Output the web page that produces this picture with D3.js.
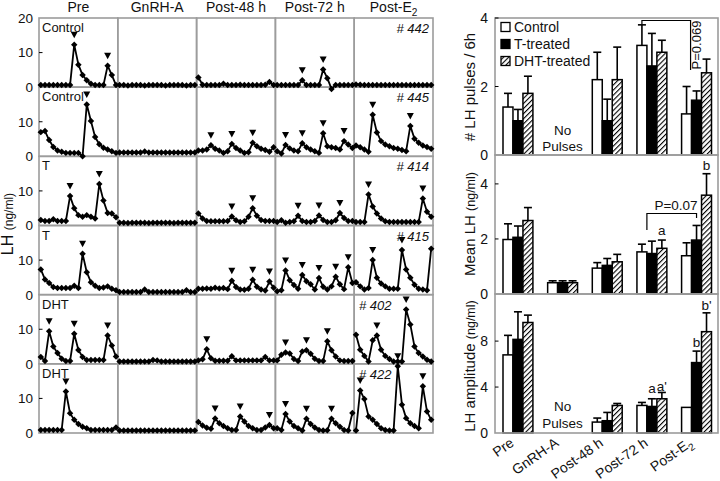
<!DOCTYPE html>
<html><head><meta charset="utf-8">
<script src="https://cdn.jsdelivr.net/npm/d3@7"></script>
<style>body{margin:0;background:#fff} svg{display:block} text{font-family:"Liberation Sans",Arial,Helvetica,sans-serif;fill:#111}</style>
</head><body><svg id="c" width="720" height="481"></svg>
<script>
// ---------- DATA ----------
const periods = ["Pre","GnRH-A","Post-48 h","Post-72 h","Post-E2"];
const rowGroups = ["Control","Control","T","T","DHT","DHT"];
const animalIds = ["# 442","# 445","# 414","# 415","# 402","# 422"];
const lhTicks = [0,10,20];

// LH (ng/ml), 19 samples per period: [Pre, GnRH-A, Post-48 h, Post-72 h, Post-E2]
const lh442 = [
 [0.6,0.6,0.6,0.6,0.6,0.6,0.6,0.6,12.3,6.5,3.5,2.0,1.0,0.6,0.6,0.6,6.2,3.5,0.6],
 [0.6,0.6,0.5,0.6,0.6,0.6,0.5,0.6,0.6,0.6,0.6,0.5,0.6,0.6,0.6,0.6,0.5,0.6,0.6],
 [2.8,0.7,0.6,0.6,0.6,0.6,1.0,0.6,0.6,0.6,0.7,0.6,0.6,0.6,0.6,0.6,0.7,1.5,0.6],
 [0.6,0.6,0.6,0.6,0.6,0.6,2.0,0.6,0.6,0.6,0.6,5.1,2.6,-0.5,0.6,0.6,0.6,0.6,0.6],
 [0.8,0.7,0.6,0.6,0.6,0.6,0.6,0.6,0.6,0.6,0.6,0.6,0.6,0.6,0.6,0.6,0.6,0.6,0.6]];
const lh445 = [
 [7.0,7.3,4.7,2.7,1.7,1.3,1.0,1.0,1.0,1.0,0.0,15.0,10.2,5.6,3.5,2.5,2.0,1.5,1.0],
 [1.1,1.1,1.1,1.1,1.1,1.1,1.4,1.1,1.1,1.1,1.1,1.1,1.1,1.1,1.1,1.1,1.1,1.1,1.1],
 [1.7,1.7,2.0,3.2,2.2,1.7,1.0,1.5,3.6,2.4,1.7,1.0,1.2,3.9,2.9,2.2,1.8,1.3,2.6],
 [1.5,0.8,3.3,2.3,1.7,1.5,3.8,2.6,2.0,1.5,1.0,6.7,2.9,2.6,2.4,2.0,4.4,3.4,2.4],
 [3.1,2.6,2.0,1.3,12.0,6.9,4.4,3.4,2.9,2.4,2.2,1.8,1.5,8.8,5.1,3.9,3.1,2.7,2.2]];
const lh414 = [
 [1.6,1.3,1.3,1.8,1.3,1.3,1.3,8.5,5.0,3.0,2.5,3.0,2.5,2.0,12.0,7.2,3.6,3.5,2.4],
 [0.8,0.8,0.7,0.8,0.8,0.8,0.8,0.7,0.8,0.8,0.8,0.8,0.8,0.7,0.8,0.8,0.8,0.8,0.8],
 [3.5,2.0,1.3,1.2,1.2,1.2,1.2,1.3,2.6,1.5,1.0,1.2,2.5,5.0,2.8,1.6,1.3,1.3,1.3],
 [1.0,1.5,0.8,1.0,1.2,2.8,1.3,1.0,1.0,1.3,2.9,1.6,1.0,1.0,1.5,3.6,2.2,1.3,1.3],
 [1.0,1.0,1.0,9.0,5.5,3.5,2.0,1.2,1.0,1.0,1.0,1.0,1.0,1.0,1.0,1.0,7.8,4.0,2.5]];
const lh415 = [
 [7.3,4.4,3.4,2.2,1.9,1.9,1.9,1.9,2.6,1.9,11.8,6.5,3.6,2.6,1.9,2.1,2.4,1.7,1.3],
 [0.8,0.8,0.8,0.8,0.8,0.8,1.5,0.8,0.8,0.8,0.8,0.8,0.8,0.8,0.8,0.8,1.3,0.8,0.8],
 [1.7,1.7,1.8,1.7,2.0,1.8,1.9,1.6,4.0,2.2,1.5,1.4,1.7,4.3,2.3,1.5,1.2,3.8,2.0],
 [1.0,1.3,7.0,4.2,2.8,1.7,5.7,3.9,3.0,1.5,4.8,2.3,1.5,2.4,5.2,3.0,1.6,7.9,3.4],
 [3.6,2.4,1.5,1.9,10.0,4.9,3.2,2.4,1.7,1.7,1.7,12.9,7.3,4.9,2.9,1.7,1.5,1.3,13.3]];
const lh402 = [
 [2.0,0.8,9.4,5.0,3.1,1.5,0.8,0.8,8.7,4.0,2.0,1.1,1.1,1.1,1.1,1.1,8.2,5.3,2.1],
 [0.7,0.7,0.7,0.7,0.7,0.7,0.7,0.7,1.1,1.0,0.7,0.7,0.7,0.7,0.7,0.7,0.7,0.7,0.7],
 [1.0,1.3,4.2,1.6,0.9,0.9,0.9,0.9,2.2,1.0,1.0,1.0,1.0,1.0,1.0,1.0,2.0,1.0,1.0],
 [1.0,2.6,3.3,3.0,1.4,0.8,3.6,3.9,2.9,1.5,0.8,0.8,6.5,3.9,2.1,1.0,0.8,0.8,0.8],
 [8.4,4.1,2.3,0.7,6.8,8.2,4.1,2.3,1.4,0.7,0.7,0.7,15.7,11.4,5.0,3.1,2.1,1.2,0.7]];
const lh422 = [
 [0.9,0.9,0.9,0.9,0.9,0.9,12.0,5.7,3.8,2.6,1.8,1.4,0.9,0.9,0.9,0.9,0.9,0.9,1.6],
 [0.7,0.7,0.7,0.7,0.7,0.7,0.7,0.7,0.7,0.7,0.7,0.7,0.7,0.7,0.7,0.7,0.7,0.7,0.7],
 [3.2,2.2,1.5,1.2,4.2,2.8,2.0,1.4,0.9,0.9,4.8,3.3,2.0,1.4,0.9,0.9,1.6,2.3,1.4],
 [1.4,0.9,5.5,3.3,2.0,1.4,0.7,4.1,2.6,1.6,0.9,0.7,0.8,4.1,2.8,1.8,0.9,0.7,5.8],
 [0.7,12.3,9.8,4.8,3.8,2.6,1.4,0.9,0.7,0.7,19.3,8.2,4.3,2.8,2.0,1.4,13.5,6.2,3.8]];
// detected pulses (sample index) per period
const pulse442 = [[8,16],[],[],[6,11],[]];
const pulse445 = [[11],[],[3,8,13],[2,6,11,16],[4,13]];
const pulse414 = [[7,14],[],[8,13],[5,10,15],[3,16]];
const pulse415 = [[10],[],[8,13,17],[2,6,10,14,17],[4,11]];
const pulse402 = [[2,8,16],[],[2],[2,7,12],[5,12]];
const pulse422 = [[6],[],[4,10,17],[2,7,13],[1,10,16]];
const animalSeries = [lh442,lh445,lh414,lh415,lh402,lh422];
const animalPulses = [pulse442,pulse445,pulse414,pulse415,pulse402,pulse422];

// Bar charts (mean, SEM) in order of periods
const series = ["Control","T-treated","DHT-treated"];
const pulsesControl = [1.4,null,2.2,3.2,1.2],  pulsesControlErr = [0.4,null,0.8,0.6,0.8];
const pulsesT       = [1.0,null,1.0,2.6,1.6],  pulsesTErr       = [0.33,null,0.63,0.95,0.27];
const pulsesDHT     = [1.8,null,2.2,3.0,2.4],  pulsesDHTErr     = [0.5,null,0.95,0.35,0.4];
const meanControl = [1.98,0.41,0.94,1.53,1.39], meanControlErr = [0.57,0.07,0.2,0.28,0.47];
const meanT       = [2.06,0.41,1.04,1.47,1.96], meanTErr       = [0.41,0.07,0.25,0.45,0.53];
const meanDHT     = [2.67,0.41,1.17,1.66,3.59], meanDHTErr     = [0.47,0.07,0.27,0.3,0.78];
const ampControl = [6.8,null,0.95,2.4,2.23],  ampControlErr = [1.7,null,0.35,0.26,0];
const ampT       = [8.15,null,1.07,2.31,6.13], ampTErr       = [2.4,null,0.72,0.67,1.0];
const ampDHT     = [9.62,null,2.4,2.98,8.82],  ampDHTErr     = [0.64,null,0.17,0.55,1.64];
const pulsesTicks = [0,2,4], meanTicks = [0,2,4], ampTicks = [0,4,8];

// ---------- DRAW ----------
const svg = d3.select("#c");
const gray = "#9c9c9c";
const defs = svg.append("defs");
const pat = defs.append("pattern").attr("id","hatch").attr("patternUnits","userSpaceOnUse")
  .attr("width",3.6).attr("height",3.6).attr("patternTransform","rotate(45)");
pat.append("rect").attr("width",3.6).attr("height",3.6).attr("fill","#fff");
pat.append("line").attr("x1",0).attr("y1",0).attr("x2",0).attr("y2",3.6).attr("stroke","#000").attr("stroke-width",2.2);

function subLabel(sel, label, size){
  if (label === "Post-E2") {
    sel.text("Post-E");
    sel.append("tspan").attr("font-size", size*0.72).attr("dy", size*0.28).text("2");
  } else sel.text(label);
}

// Left panel
const colX = d3.scaleBand().domain(periods).range([39,433]);
const rowY = d3.scaleBand().domain(d3.range(rowGroups.length)).range([18,433]);
const lhScale = r => d3.scaleLinear().domain([0,20]).range([rowY(r)+rowY.bandwidth(), rowY(r)]);

// headers
periods.forEach(p => {
  const t = svg.append("text").attr("x", colX(p)+colX.bandwidth()/2).attr("y",12)
    .attr("text-anchor","middle").attr("font-size",14);
  subLabel(t, p, 14);
});

// cell frames
const gFrames = svg.append("g");
rowGroups.forEach((g,r) => periods.forEach(p => {
  gFrames.append("rect").attr("x",colX(p)).attr("y",rowY(r))
    .attr("width",colX.bandwidth()).attr("height",rowY.bandwidth())
    .attr("fill","none").attr("stroke",gray).attr("stroke-width",1.6);
}));

// y ticks
rowGroups.forEach((g,r) => {
  const y = lhScale(r);
  const ticks = r === 0 ? lhTicks : lhTicks.slice(0,2);
  ticks.forEach(t => {
    svg.append("text").attr("x",33).attr("y",y(t)).attr("dy","0.36em")
      .attr("text-anchor","end").attr("font-size",13.5).text(t);
  });
  svg.append("line").attr("x1",39).attr("x2",42.5).attr("y1",y(10)).attr("y2",y(10))
    .attr("stroke","#000").attr("stroke-width",1);
});

// series
const line = d3.line();
const diamond = d3.symbol().type(d3.symbolSquare).size(21);
animalSeries.forEach((an, r) => {
  const y = lhScale(r);
  periods.forEach((p, c) => {
    const vals = an[c];
    const x = d3.scaleLinear().domain([0, vals.length-1]).range([colX(p)+1.8, colX(p)+colX.bandwidth()-1.8]);
    const pts = vals.map((v,i) => [x(i), y(v)]);
    svg.append("path").attr("d", line(pts)).attr("fill","none").attr("stroke","#000").attr("stroke-width",1.8)
      .attr("stroke-linejoin","round");
    svg.append("g").selectAll("path").data(pts).join("path")
      .attr("d", diamond).attr("transform", d => `translate(${d[0]},${d[1]}) rotate(45)`).attr("fill","#000");
    animalPulses[r][c].forEach(i => {
      const px = x(i), py = y(vals[i]);
      svg.append("path").attr("d", `M${px-3.5},${py-13} L${px+3.5},${py-13} L${px},${py-6.5} Z`).attr("fill","#000");
    });
  });
  // row label
  svg.append("text").attr("x",42).attr("y",rowY(r)+14).attr("font-size",13).text(rowGroups[r]);
  // animal id
  const left = r >= 4;
  svg.append("text").attr("x", left ? 359 : 429).attr("y", rowY(r)+15)
    .attr("text-anchor", left ? "start" : "end").attr("font-size",13).attr("font-style","italic")
    .text(animalIds[r]);
});

// LH axis title
const lt = svg.append("text").attr("transform","translate(13,224) rotate(-90)").attr("text-anchor","middle");
lt.append("tspan").attr("font-size",16).text("LH ");
lt.append("tspan").attr("font-size",12).text("(ng/ml)");

// Right panel
const xG = d3.scaleBand().domain(periods).range([503, 711.5]).paddingInner(0.33);
const xS = d3.scaleBand().domain(series).range([0, xG.bandwidth()]);
const fills = ["#fff","#000","url(#hatch)"];
const charts = [
  {vals:[pulsesControl,pulsesT,pulsesDHT], errs:[pulsesControlErr,pulsesTErr,pulsesDHTErr],
   y: d3.scaleLinear().domain([0,4]).range([155,18]), ticks: pulsesTicks, top:18, bottom:155,
   title:["# LH pulses / 6h",""], tcy: 87},
  {vals:[meanControl,meanT,meanDHT], errs:[meanControlErr,meanTErr,meanDHTErr],
   y: d3.scaleLinear().domain([0,5.05]).range([294,155]), ticks: meanTicks, top:155, bottom:294,
   title:["Mean LH ","(ng/ml)"], tcy: 224},
  {vals:[ampControl,ampT,ampDHT], errs:[ampControlErr,ampTErr,ampDHTErr],
   y: d3.scaleLinear().domain([0,12.1]).range([433,294]), ticks: ampTicks, top:294, bottom:433,
   title:["LH amplitude ","(ng/ml)"], tcy: 366}
];
charts.forEach(ch => {
  const g = svg.append("g");
  ch.vals.forEach((arr, s) => {
    arr.forEach((v, k) => {
      if (v == null) return;
      const x0 = xG(periods[k]) + xS(series[s]);
      const w = xS.bandwidth();
      const e = ch.errs[s][k];
      if (e) {
        g.append("line").attr("x1",x0+w/2).attr("x2",x0+w/2).attr("y1",ch.y(v)).attr("y2",ch.y(v+e))
          .attr("stroke","#000").attr("stroke-width",1.6);
        g.append("line").attr("x1",x0+w/2-4).attr("x2",x0+w/2+4).attr("y1",ch.y(v+e)).attr("y2",ch.y(v+e))
          .attr("stroke","#000").attr("stroke-width",1.6);
      }
      g.append("rect").attr("x",x0).attr("y",ch.y(v)).attr("width",w).attr("height",ch.y(0)-ch.y(v))
        .attr("fill",fills[s]).attr("stroke","#000").attr("stroke-width",1.5);
    });
  });
  svg.append("rect").attr("x",495).attr("y",ch.top).attr("width",223).attr("height",ch.bottom-ch.top)
    .attr("fill","none").attr("stroke",gray).attr("stroke-width",1.6);
  ch.ticks.forEach(t => {
    svg.append("text").attr("x",488).attr("y",ch.y(t)).attr("dy","0.36em").attr("text-anchor","end")
      .attr("font-size",14).text(t);
    if (t > 0) svg.append("line").attr("x1",495).attr("x2",498.5).attr("y1",ch.y(t)).attr("y2",ch.y(t))
      .attr("stroke","#000").attr("stroke-width",1);
  });
  const tt = svg.append("text").attr("transform",`translate(475,${ch.tcy}) rotate(-90)`).attr("text-anchor","middle");
  tt.append("tspan").attr("font-size",15).text(ch.title[0]);
  if (ch.title[1]) tt.append("tspan").attr("font-size",12.5).text(ch.title[1]);
});

// legend
series.forEach((s,i) => {
  const ly = [27,44,61][i];
  svg.append("rect").attr("x",501).attr("y",ly-4.5).attr("width",9).attr("height",9)
    .attr("fill",fills[i]).attr("stroke","#000").attr("stroke-width",1.3);
  svg.append("text").attr("x",514).attr("y",ly).attr("dy","0.36em").attr("font-size",14).text(s);
});

// No Pulses
const gx = xG("GnRH-A") + xG.bandwidth()/2;
[[135,151],[411,428]].forEach(([a,b]) => {
  svg.append("text").attr("x",gx).attr("y",a).attr("text-anchor","middle").attr("font-size",13.5).text("No");
  svg.append("text").attr("x",gx).attr("y",b).attr("text-anchor","middle").attr("font-size",13.5).text("Pulses");
});

// annotations top chart
const c72 = xG("Post-72 h") + xS("Control") + xS.bandwidth()/2;
const ce2 = xG("Post-E2") + xS("Control") + xS.bandwidth()/2 + 4;
svg.append("path").attr("d",`M${c72},24 L${c72},20.5 L${ce2},20.5 L${ce2},70`).attr("fill","none")
  .attr("stroke","#000").attr("stroke-width",1.2);
svg.append("text").attr("transform","translate(701,45) rotate(-90)").attr("text-anchor","middle")
  .attr("font-size",13).text("P=0.069");

// annotations middle chart
const t72 = xG("Post-72 h") + xS("T-treated") + xS.bandwidth()/2 - 5;
const te2 = xG("Post-E2") + xS("T-treated") + xS.bandwidth()/2;
svg.append("path").attr("d",`M${t72},230 L${t72},213.5 L${te2},213.5 L${te2},218`).attr("fill","none")
  .attr("stroke","#000").attr("stroke-width",1.2);
svg.append("text").attr("x",676).attr("y",210).attr("text-anchor","middle").attr("font-size",13.5).text("P=0.07");
svg.append("text").attr("x",xG("Post-72 h")+xS("DHT-treated")+xS.bandwidth()/2).attr("y",235)
  .attr("text-anchor","middle").attr("font-size",13.5).text("a");
svg.append("text").attr("x",xG("Post-E2")+xS("DHT-treated")+xS.bandwidth()/2).attr("y",170)
  .attr("text-anchor","middle").attr("font-size",13.5).text("b");
// bottom chart letters
[["Post-72 h","T-treated","a",393],["Post-72 h","DHT-treated","a'",391],
 ["Post-E2","T-treated","b",347],["Post-E2","DHT-treated","b'",310]].forEach(([p,s,l,yy]) => {
  svg.append("text").attr("x",xG(p)+xS(s)+xS.bandwidth()/2).attr("y",yy)
    .attr("text-anchor","middle").attr("font-size",13.5).text(l);
});

// x labels
periods.forEach(p => {
  const cx = xG(p) + xG.bandwidth()/2 - 3;
  const t = svg.append("text").attr("transform",`translate(${cx},445) rotate(-35)`)
    .attr("text-anchor","end").attr("font-size",14);
  subLabel(t, p, 14);
});
</script></body></html>
